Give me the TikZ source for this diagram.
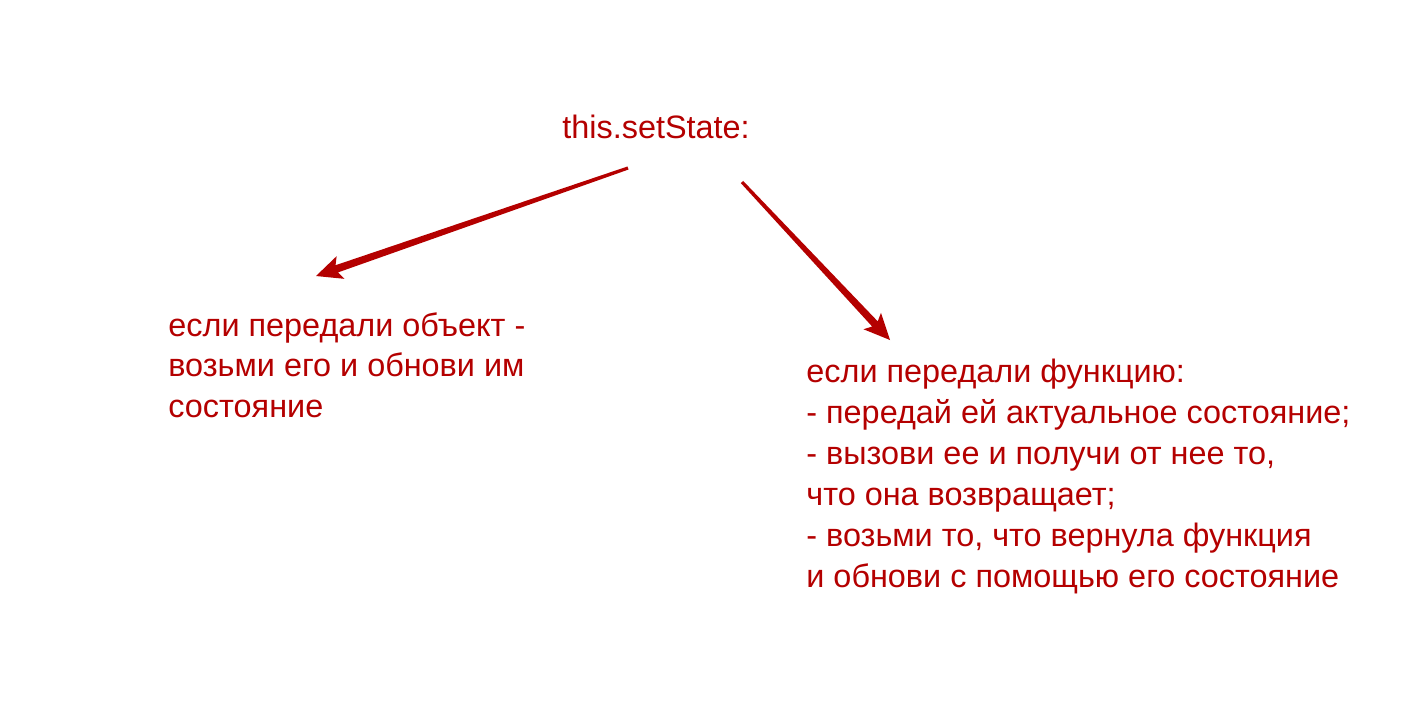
\documentclass[tikz,border=0pt]{standalone}
\usepackage{fontspec}
\setmainfont{Liberation Sans}
\usetikzlibrary{calc}
\definecolor{redtxt}{RGB}{180,0,0}
\tikzset{
  lbl/.style={text=redtxt, inner sep=0pt, align=left, font=\fontsize{16.2}{20.5}\selectfont},
}
\newcommand{\taperarrow}[2]{%
  \fill[redtxt]
    ($(#1)!0.8pt!90:(#2)$) --
    ($($(#2)!11pt!(#1)$)!1.9pt!90:(#2)$) --
    ($($(#2)!13pt!(#1)$)!6pt!90:(#2)$) --
    (#2) --
    ($($(#2)!13pt!(#1)$)!6pt!-90:(#2)$) --
    ($($(#2)!11pt!(#1)$)!1.9pt!-90:(#2)$) --
    ($(#1)!0.8pt!-90:(#2)$) -- cycle;}
\begin{document}
\begin{tikzpicture}[x=0.5pt,y=-0.5pt]
\useasboundingbox (0,0) rectangle (1420,725);
\node[lbl, anchor=base west] (title) at (562,138) {this.setState:};
\node[lbl, anchor=base west, font=\fontsize{16.2}{20.25}\selectfont] (left) at (168,417) {если передали объект -\\возьми его и обнови им\\состояние};
\node[lbl, anchor=base west] (right) at (806,587) {если передали функцию:\\- передай ей актуальное состояние;\\- вызови ее и получи от нее то,\\что она возвращает;\\- возьми то, что вернула функция\\и обнови с помощью его состояние};
\coordinate (a1s) at (628,168);
\coordinate (a1e) at (316,276);
\coordinate (a2s) at (742,182);
\coordinate (a2e) at (890,340);
\taperarrow{a1s}{a1e}
\taperarrow{a2s}{a2e}
\end{tikzpicture}
\end{document}
